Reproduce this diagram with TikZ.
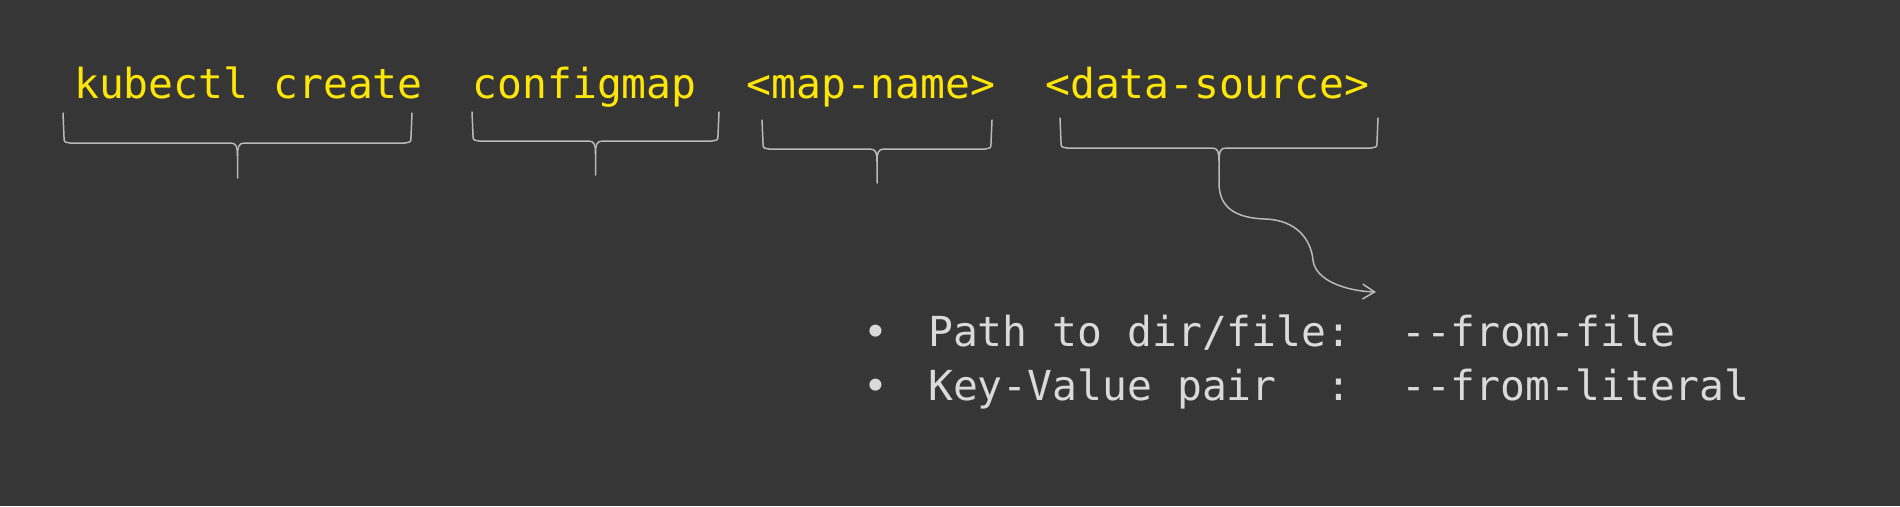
\documentclass[tikz,border=0pt]{standalone}
\usepackage{fontspec}
\setmonofont{DejaVu Sans Mono}
\usetikzlibrary{arrows.meta}
\definecolor{bgc}{RGB}{54,54,54}
\definecolor{cmdyellow}{RGB}{253,230,8}
\definecolor{itemgrey}{RGB}{218,218,218}
\definecolor{bracegrey}{RGB}{185,185,185}
\tikzset{
  cmd/.style={font=\ttfamily\fontsize{41.35}{49}\selectfont, text=cmdyellow, inner sep=0pt, anchor=base west},
  item/.style={font=\ttfamily\fontsize{41.35}{49}\selectfont, text=itemgrey, inner sep=0pt, anchor=base west},
  bracestyle/.style={draw=bracegrey, line width=1.5pt, line cap=round, line join=round},
  arrowstyle/.style={draw=bracegrey, line width=1.5pt, line cap=round, -{Straight Barb[length=12pt,width=15pt]}}
}
\newcommand\drawubrace[5]{%
  \pgfmathsetmacro\bc{(#1+#2)/2}%
  \draw[bracestyle] (#1-1,#3) -- (#1,#4-6) .. controls (#1,#4-1) .. (#1+6,#4) -- (\bc-7,#4) .. controls (\bc-1,#4) and (\bc,#4+4) .. (\bc,#4+13) -- (\bc,#5);
  \draw[bracestyle] (#2+1,#3) -- (#2,#4-6) .. controls (#2,#4-1) .. (#2-6,#4) -- (\bc+7,#4) .. controls (\bc+1,#4) and (\bc,#4+4) .. (\bc,#4+13);
}
\begin{document}
\begin{tikzpicture}[x=1pt,y=-1pt]
\useasboundingbox (0,0) rectangle (1900,506);
\fill[bgc] (0,0) rectangle (1900,506);
% command words
\node[cmd] (kc) at (74,98) {kubectl create};
\node[cmd] (cm) at (472.4,98) {configmap};
\node[cmd] (mn) at (746.3,98) {<map-name>};
\node[cmd] (ds) at (1045.1,98) {<data-source>};
% braces under the words
\drawubrace{64}{411}{113}{143}{178}
\drawubrace{473}{718}{112}{141}{175}
\drawubrace{763}{991}{120}{149}{183}
\drawubrace{1061}{1377}{118}{148}{183}
% list
\node[item] (b1) at (863,346.7) {•};
\node[item] (l1) at (928,346.7) {Path to dir/file:~~-{}-from-file};
\node[item] (b2) at (863,400) {•};
\node[item] (l2) at (928,400) {Key-Value pair~~:~~-{}-from-literal};
% arrow from data-source brace to list
\coordinate (dstip) at (1219,183);
\coordinate (listend) at (1376,292);
\draw[arrowstyle] (dstip) .. controls (1219,208) and (1236,218) .. (1265,219)
  .. controls (1297,220) and (1311,240) .. (1313,260)
  .. controls (1315,280) and (1345,291) .. (listend);
\end{tikzpicture}
\end{document}
